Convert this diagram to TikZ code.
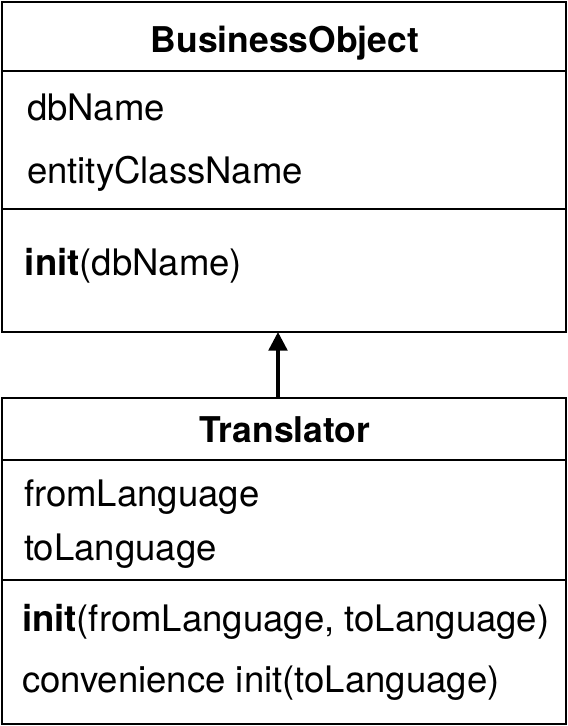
\documentclass[tikz,border=0pt]{standalone}
\usepackage{fontspec}
\setmainfont{TeX Gyre Heros}
\usetikzlibrary{arrows.meta}

\begin{document}
\begin{tikzpicture}[x=0.75pt, y=-0.75pt, line width=1.5pt,
	classbox/.style={draw, minimum width=423pt, inner sep=0pt},
	member/.style={anchor=base west, inner sep=0pt, font=\fontsize{27.4}{31}\selectfont},
	classtitle/.style={anchor=base, inner sep=0pt, font=\fontsize{26.6}{30}\selectfont\bfseries}]
			%%%%% START %%%%%
			\useasboundingbox (0, 0) rectangle (568, 726);
			
			% BusinessObject
			\node[classbox, minimum height=247.5pt] (bo) at (284, 167) {};
			\node[classtitle] (botitle) at (285, 52) {BusinessObject};
			\draw (2, 71) -- (566, 71);
			\node[member] (dbname) at (26, 120) {dbName};
			\node[member] (entity) at (26, 183) {entityClassName};
			\draw (2, 209) -- (566, 209);
			\node[member] (boinit) at (24, 275) {\textbf{init}(dbName)};
			
			% Translator
			\node[classbox, minimum height=244.5pt] (tr) at (284, 561) {};
			\node[classtitle] (trtitle) at (285, 442) {Translator};
			\draw (2, 460) -- (566, 460);
			\node[member] (fromlang) at (23, 506) {fromLanguage};
			\node[member] (tolang) at (23, 560) {toLanguage};
			\draw (2, 580) -- (566, 580);
			\node[member] (trinit) at (21, 631) {\textbf{init}(fromLanguage, toLanguage)};
			\node[member] (trconv) at (21, 692) {convenience init(toLanguage)};
			
			% inheritance
			\coordinate (trtop) at (278, 398);
			\coordinate (bobottom) at (278, 332);
			\draw[line width=2.6pt, -{Triangle[width=14pt, length=14pt]}] (trtop) -- (bobottom);
			
			%%%%% END %%%%%
\end{tikzpicture}
\end{document}
